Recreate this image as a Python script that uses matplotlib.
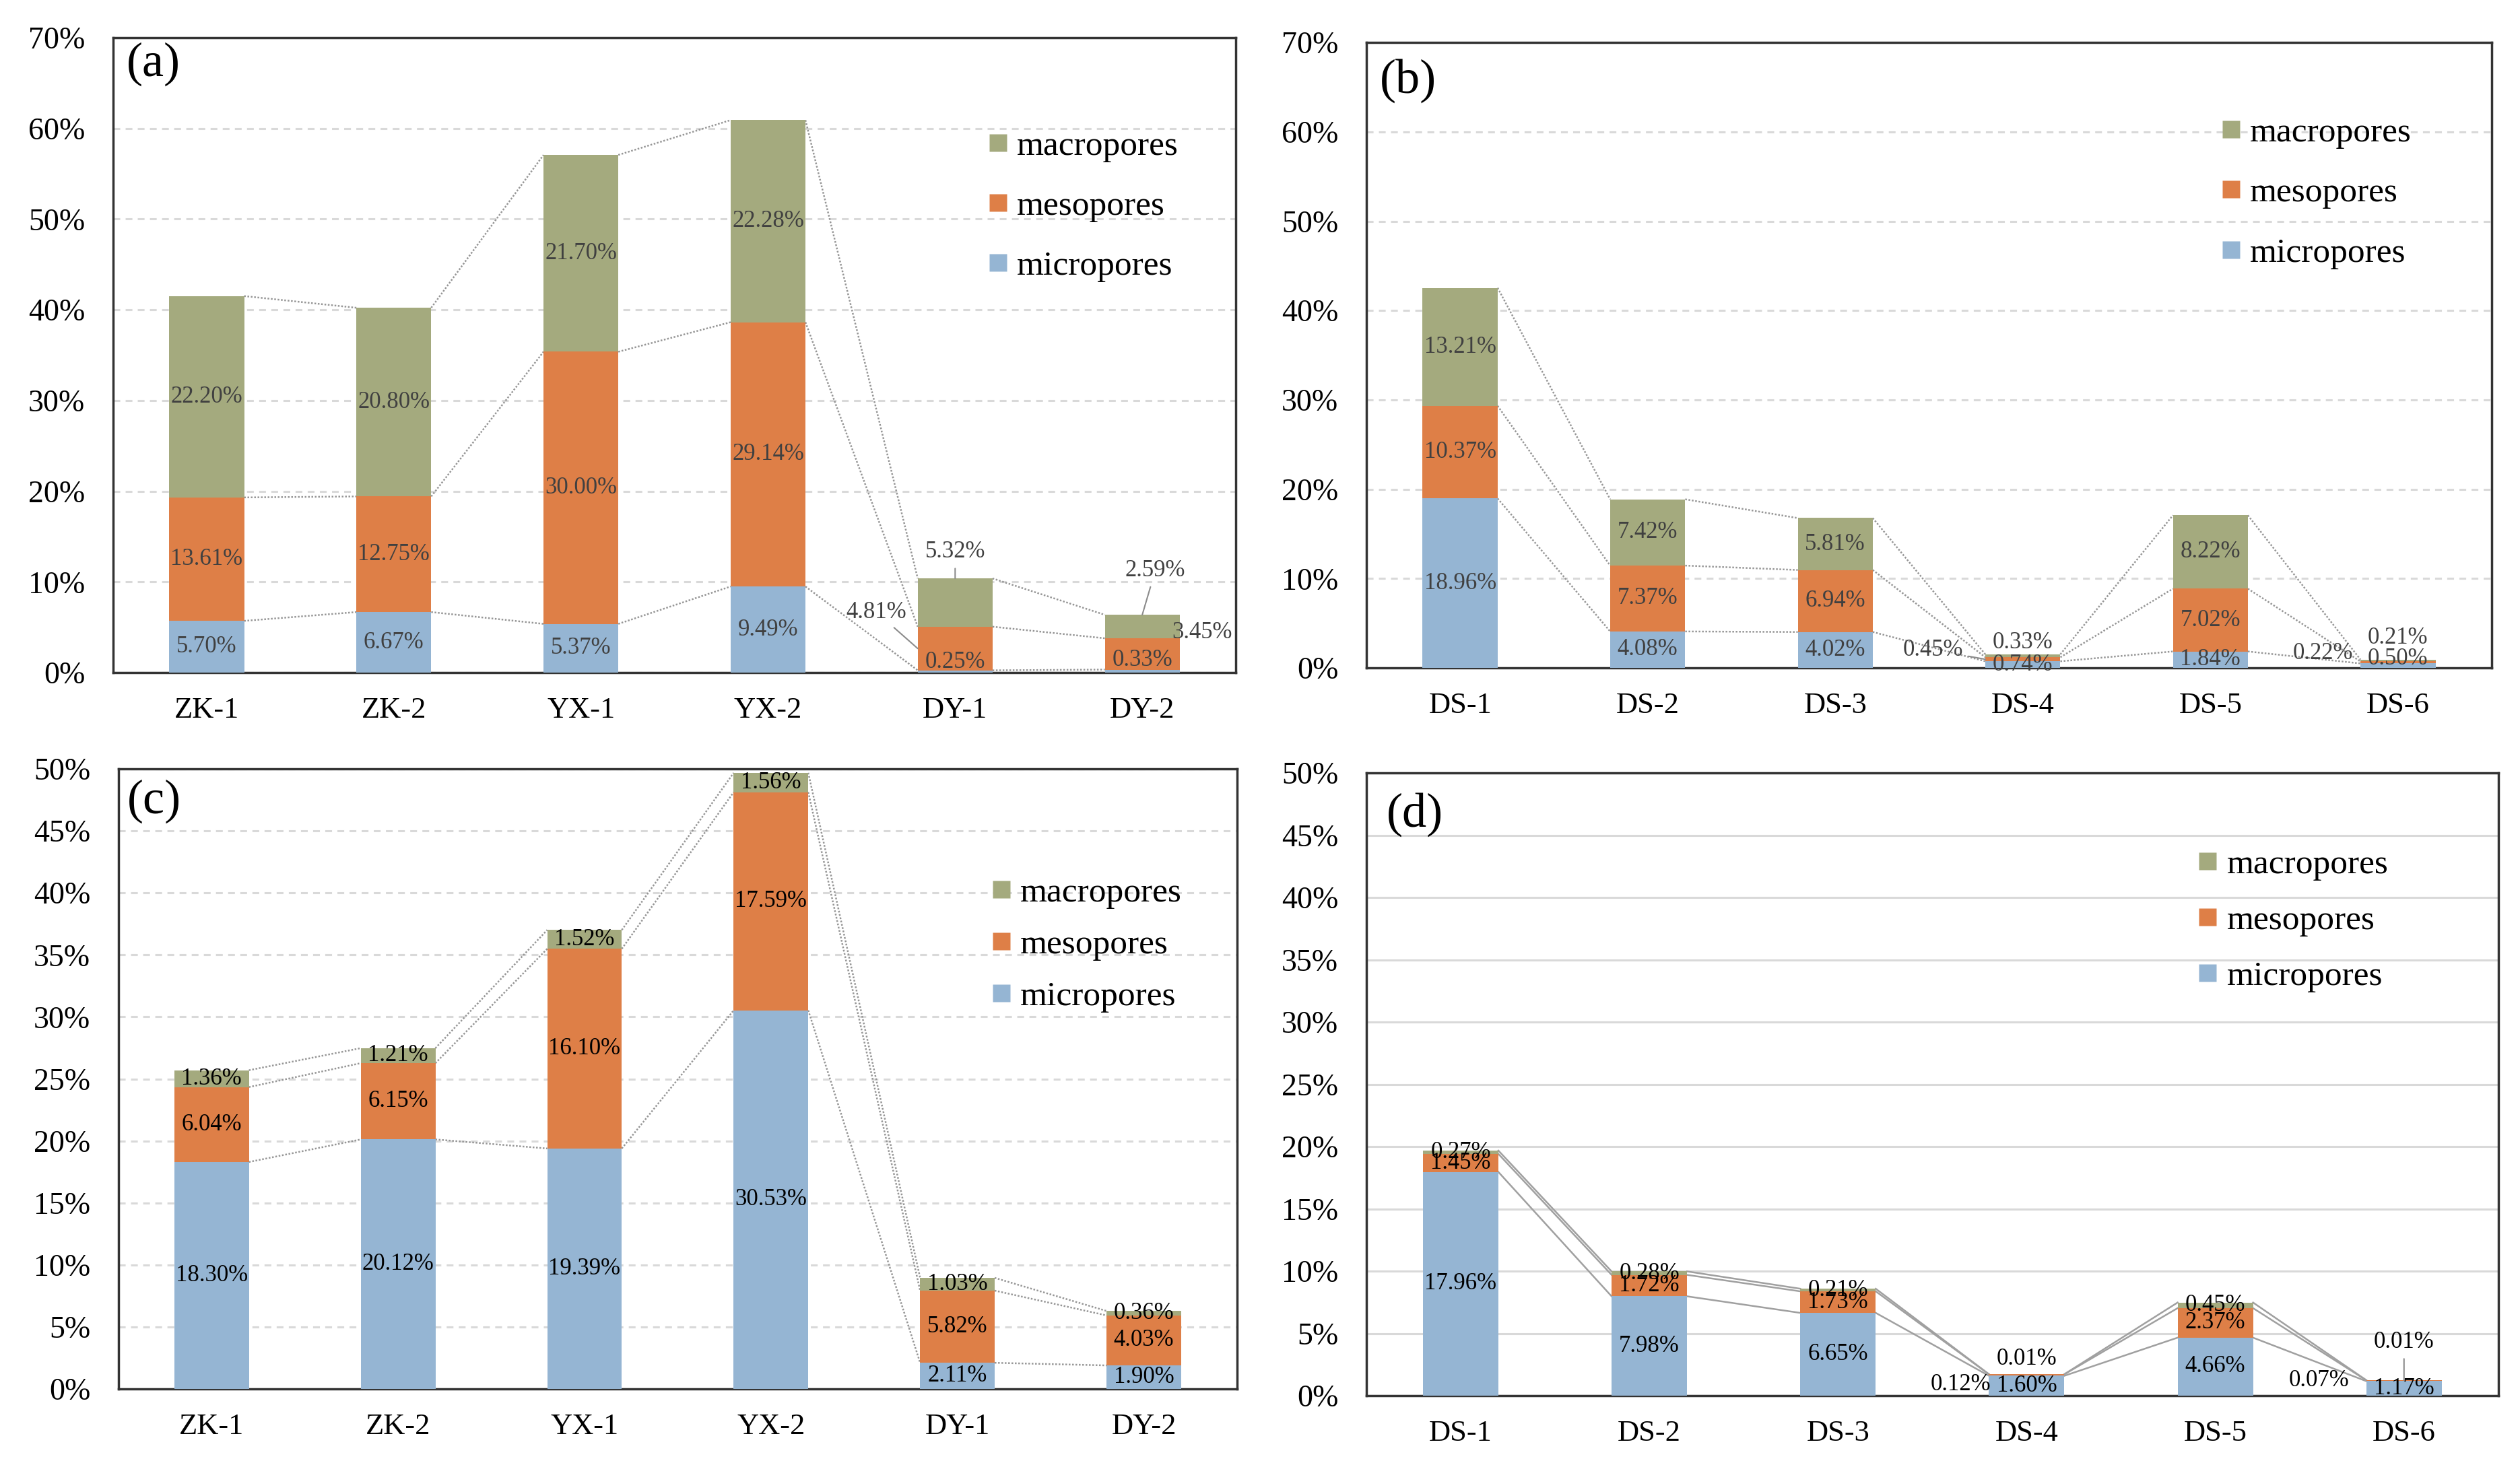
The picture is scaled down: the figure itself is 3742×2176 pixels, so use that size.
import matplotlib
matplotlib.use("Agg")
import matplotlib.pyplot as plt
from matplotlib.lines import Line2D

plt.rcParams['font.family'] = ['Liberation Serif', 'DejaVu Serif']

# --- data (percent) ---
zk_cats = ["ZK-1", "ZK-2", "YX-1", "YX-2", "DY-1", "DY-2"]
ds_cats = ["DS-1", "DS-2", "DS-3", "DS-4", "DS-5", "DS-6"]

a_micro = [5.70, 6.67, 5.37, 9.49, 0.25, 0.33]
a_meso = [13.61, 12.75, 30.00, 29.14, 4.81, 3.45]
a_macro = [22.20, 20.80, 21.70, 22.28, 5.32, 2.59]

b_micro = [18.96, 4.08, 4.02, 0.74, 1.84, 0.50]
b_meso = [10.37, 7.37, 6.94, 0.45, 7.02, 0.22]
b_macro = [13.21, 7.42, 5.81, 0.33, 8.22, 0.21]

c_micro = [18.30, 20.12, 19.39, 30.53, 2.11, 1.90]
c_meso = [6.04, 6.15, 16.10, 17.59, 5.82, 4.03]
c_macro = [1.36, 1.21, 1.52, 1.56, 1.03, 0.36]

d_micro = [17.96, 7.98, 6.65, 1.60, 4.66, 1.17]
d_meso = [1.45, 1.72, 1.73, 0.12, 2.37, 0.07]
d_macro = [0.27, 0.28, 0.21, 0.01, 0.45, 0.01]

series_names = ["micropores", "mesopores", "macropores"]
colors = ["#95B5D3", "#DE7F47", "#A4AA7E"]

# label placement for the small segments: (dx, dy from segment centre, leader)
callouts = {
    "a": {(4, 0): (0.0, 1.0, None), (4, 1): (-0.42, 4.0, "left"),
          (4, 2): (0.0, 5.6, "top"), (5, 0): (0.0, 1.2, None),
          (5, 1): (0.32, 2.35, None), (5, 2): (0.07, 6.2, "top")},
    "b": {(3, 1): (-0.48, 1.05, "left"), (3, 2): (0.0, 1.45, None),
          (5, 0): (0.0, 0.8, None), (5, 1): (-0.40, 1.05, None),
          (5, 2): (0.0, 2.5, None)},
    "c": {},
    "d": {(3, 1): (-0.35, -0.74, None), (3, 2): (0.0, 1.25, None),
          (5, 1): (-0.45, 0.04, None), (5, 2): (0.0, 3.06, "top")},
}

panels = [
    ("a", zk_cats, [a_micro, a_meso, a_macro], 70, 10, [0.0449, 0.5409, 0.4455, 0.4334],
     "dotted", "#404040", (0.779, 0.734), 0.82, (0.012, 0.958)),
    ("b", ds_cats, [b_micro, b_meso, b_macro], 70, 10, [0.5422, 0.5441, 0.4466, 0.4269],
     "dotted", "#404040", (0.759, 0.759), 0.82, (0.012, 0.939)),
    ("c", zk_cats, [c_micro, c_meso, c_macro], 50, 5, [0.0470, 0.0519, 0.4439, 0.4233],
     "dotted", "black", (0.780, 0.716), 0.58, (0.008, 0.948)),
    ("d", ds_cats, [d_micro, d_meso, d_macro], 50, 5, [0.5422, 0.0473, 0.4492, 0.4251],
     "solid", "black", (0.734, 0.763), 0.70, (0.018, 0.933)),
]

W = 0.4

fig = plt.figure(figsize=(37.42, 21.76), dpi=100)

for (name, cats, vals, ymax, ystep, rect, lstyle, tcol,
     leg_xy, leg_sp, tag_xy) in panels:
    ax = fig.add_axes(rect)
    x = list(range(len(cats)))
    bottoms = [0.0] * len(cats)
    levels = []
    segs = []
    for k, v in enumerate(vals):
        ax.bar(x, v, W, bottom=bottoms, color=colors[k], edgecolor="none",
               zorder=3)
        segs.append([(b, b + h) for b, h in zip(bottoms, v)])
        bottoms = [b + h for b, h in zip(bottoms, v)]
        levels.append(list(bottoms))

    # series lines between neighbouring bars
    for lev in levels:
        for i in range(len(cats) - 1):
            if lstyle == "dotted":
                ax.plot([i + W / 2, i + 1 - W / 2], [lev[i], lev[i + 1]],
                        color="#969696", lw=1.8, ls=(0, (1, 1)), zorder=2)
            else:
                ax.plot([i + W / 2, i + 1 - W / 2], [lev[i], lev[i + 1]],
                        color="#A0A0A0", lw=1.8, zorder=2)

    # data labels
    for k, v in enumerate(vals):
        for i, val in enumerate(v):
            lo, hi = segs[k][i]
            yc = (lo + hi) / 2
            txt = "%.2f%%" % val
            co = callouts[name].get((i, k))
            if co is None:
                ax.text(i, yc, txt, ha="center", va="center", fontsize=25,
                        color=tcol, zorder=5)
                continue
            dx, dy, leader = co
            if leader is None:
                ax.text(i + dx, yc + dy, txt, ha="center", va="center",
                        fontsize=25, color=tcol, zorder=5)
            else:
                target = (i - W / 2, yc) if leader == "left" else (i, hi)
                ax.annotate(txt, xy=target, xytext=(i + dx, yc + dy),
                            ha="center", va="center", fontsize=25, color=tcol,
                            zorder=5,
                            arrowprops=dict(arrowstyle="-", color="#8C8C8C",
                                            lw=1.5, shrinkA=4, shrinkB=0))

    ax.set_xlim(-0.5, len(cats) - 0.5)
    ax.set_ylim(0, ymax)
    ax.set_xticks(x)
    ax.set_xticklabels(cats, fontsize=32)
    yt = list(range(0, ymax + 1, ystep))
    ax.set_yticks(yt)
    ax.set_yticklabels(["%d%%" % t for t in yt], fontsize=33)
    ax.tick_params(length=0, pad=26)
    ax.tick_params(axis="y", pad=30)

    if lstyle == "dotted":
        ax.grid(axis="y", color="#D9D9D9", lw=2.2, ls=(0, (3.3, 2.6)))
    else:
        ax.grid(axis="y", color="#D9D9D9", lw=2.2)
    ax.set_axisbelow(True)
    for sp in ax.spines.values():
        sp.set_linewidth(2.5)
        sp.set_color("#333333")

    handles = [Line2D([], [], marker="s", ls="none", markersize=19,
                      markerfacecolor=colors[k], markeredgecolor="none",
                      label=series_names[k]) for k in (2, 1, 0)]
    ax.legend(handles=handles, loc="center left", bbox_to_anchor=leg_xy,
              frameon=False, fontsize=37, handlelength=0.6,
              handletextpad=0.25, labelspacing=leg_sp, borderpad=0,
              borderaxespad=0)

    ax.text(tag_xy[0], tag_xy[1], "(%s)" % name, transform=ax.transAxes,
            ha="left", va="center", fontsize=52)

fig.savefig("out.png", dpi=100)
